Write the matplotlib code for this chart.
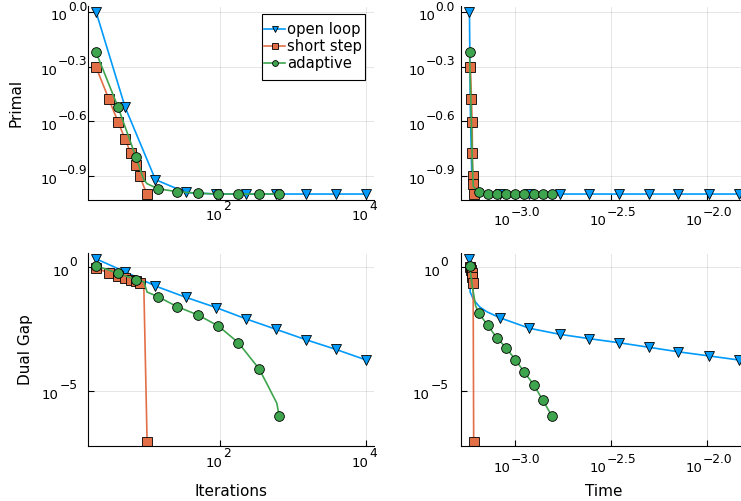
import matplotlib
matplotlib.use("Agg")
import matplotlib.pyplot as plt
from matplotlib.ticker import NullLocator
from matplotlib.patches import Rectangle

# ---- data ----
labels = ["open loop", "short step", "adaptive"]
colors = ["#009AFA", "#E36F47", "#3EA44E"]
markers = ["v", "s", "o"]

# iterations panels
ol_iter = [2, 5, 13, 34, 88, 229, 585, 1507, 3845, 10000]
ol_primal = [1.0, 0.30, 0.12, 0.102, 0.1, 0.1, 0.1, 0.1, 0.1, 0.1]
ol_dual = [2.2, 0.66, 0.175, 0.061, 0.0236, 0.0081, 0.0031, 0.00117, 4.8e-4, 1.78e-4]
ol_iter_mk = list(range(10))

ss_iter = [2, 3, 4, 5, 6, 7, 8, 9, 10]
ss_primal = [0.497, 0.331, 0.249, 0.2, 0.167, 0.144, 0.125, 0.11, 0.1]
ss_dual = [0.97, 0.57, 0.46, 0.38, 0.32, 0.28, 0.24, 0.22, 8.7e-8]
ss_iter_mk = [0, 1, 2, 3, 4, 5, 6, 8]

ad_iter = [2, 4, 7, 9, 10, 14, 26, 50, 95, 178, 342, 436, 599, 646]
ad_primal = [0.60, 0.30, 0.16, 0.12, 0.114, 0.107, 0.103, 0.101, 0.1, 0.1, 0.1, 0.1, 0.1, 0.1]
ad_dual = [1.16, 0.57, 0.32, 0.26, 0.10, 0.065, 0.0254, 0.0117, 0.0042, 8.9e-4,
           7.85e-5, 2.0e-5, 3.2e-6, 9.5e-7]
ad_iter_mk = [0, 1, 2, 5, 6, 7, 8, 9, 10, 13]

# time panels
ol_time_p = [5.75e-4, 5.81e-4, 5.92e-4, 6.17e-4, 8.28e-4, 1.183e-3, 1.698e-3,
             2.42e-3, 3.46e-3, 4.97e-3, 7.08e-3, 0.0102, 0.01466]
ol_primal_t = [1.0, 0.30, 0.12, 0.102, 0.1, 0.1, 0.1, 0.1, 0.1, 0.1, 0.1, 0.1, 0.1]
ol_time_p_mk = [0, 4, 5, 6, 7, 8, 9, 10, 11, 12]
ol_time_d = [5.75e-4, 5.8e-4, 6.05e-4, 6.5e-4, 7.1e-4, 8.28e-4, 1.183e-3, 1.698e-3,
             2.42e-3, 3.46e-3, 4.97e-3, 7.08e-3, 0.0102, 0.01466]
ol_dual_t = [2.2, 0.1, 0.048, 0.025, 0.0158, 0.0091, 0.0034, 0.00195, 0.0013,
             8.9e-4, 5.8e-4, 3.8e-4, 2.6e-4, 1.77e-4]
ol_time_d_mk = [0, 5, 6, 7, 8, 9, 10, 11, 12, 13]

ss_time_p = [5.82e-4, 5.89e-4, 5.94e-4, 5.96e-4, 5.98e-4, 5.99e-4, 6.05e-4]
ss_primal_t = [0.497, 0.331, 0.249, 0.167, 0.126, 0.113, 0.1]
ss_time_d = [5.77e-4, 5.87e-4, 5.91e-4, 5.96e-4, 6.01e-4, 6.05e-4]
ss_dual_t = [1.06, 0.78, 0.57, 0.42, 0.24, 8.7e-8]

ad_time_p = [5.754e-4, 5.86e-4, 5.94e-4, 6.02e-4, 6.412e-4, 7.161e-4, 7.98e-4,
             8.93e-4, 1.0e-3, 1.114e-3, 1.247e-3, 1.39e-3, 1.552e-3]
ad_primal_t = [0.60, 0.30, 0.16, 0.11, 0.103, 0.1, 0.1, 0.1, 0.1, 0.1, 0.1, 0.1, 0.1]
ad_time_p_mk = [0, 4, 5, 6, 7, 8, 9, 10, 11, 12]
ad_time_d = [5.754e-4, 5.96e-4, 6.19e-4, 6.412e-4, 7.161e-4, 7.98e-4, 8.93e-4,
             1.0e-3, 1.114e-3, 1.247e-3, 1.39e-3, 1.552e-3]
ad_dual_t = [1.16, 0.158, 0.028, 0.0145, 0.00447, 0.00141, 5.56e-4, 1.78e-4,
             5.6e-5, 1.72e-5, 4.17e-6, 9.3e-7]
ad_time_d_mk = [0, 3, 4, 5, 6, 7, 8, 9, 10, 11]

# ticks: value -> exponent text
primal_ticks = [1.0, 10 ** -0.3, 10 ** -0.6, 10 ** -0.9]
primal_exps = ["0.0", "\u22120.3", "\u22120.6", "\u22120.9"]
dual_ticks = [1.0, 1e-5]
dual_exps = ["0", "\u22125"]
iter_ticks = [1e2, 1e4]
iter_exps = ["2", "4"]
time_ticks = [1e-3, 10 ** -2.5, 1e-2]
time_exps = ["\u22123.0", "\u22122.5", "\u22122.0"]

W, H = 741, 501
PX = 0.72  # points per pixel at 100 dpi
BASE_FS, SUP_FS = 9.5, 8.8

fig = plt.figure(figsize=(W / 100, H / 100), dpi=100)


def make_ax(left, top, right, bottom):
    return fig.add_axes([left / W, (H - bottom) / H, (right - left) / W, (bottom - top) / H])


def y_labels(ax, ticks, exps, pad_px):
    # "10" with a raised exponent, right aligned next to the spine
    ax.set_yticks(ticks)
    ax.set_yticklabels([])
    tr = ax.get_yaxis_transform()
    for t, e in zip(ticks, exps):
        sup = ax.annotate(e, (0, t), xycoords=tr, xytext=(-pad_px * PX, 1.0),
                          textcoords="offset points", ha="right", va="baseline",
                          fontsize=SUP_FS, annotation_clip=False)
        ax.annotate("10", (0, 0), xycoords=sup, xytext=(-0.3, -6.8 * PX),
                    textcoords="offset points", ha="right", va="baseline",
                    fontsize=BASE_FS, annotation_clip=False)


def x_labels(ax, ticks, exps, dx_px, base_dy, sup_dy):
    ax.set_xticks(ticks)
    ax.set_xticklabels([])
    tr = ax.get_xaxis_transform()
    for t, e in zip(ticks, exps):
        ten = ax.annotate("10", (t, 0), xycoords=tr, xytext=(dx_px * PX, -base_dy * PX),
                          textcoords="offset points", ha="right", va="baseline",
                          fontsize=BASE_FS, annotation_clip=False)
        ax.annotate(e, (1, 0), xycoords=ten, xytext=(0.3, sup_dy * PX),
                    textcoords="offset points", ha="left", va="baseline",
                    fontsize=SUP_FS, annotation_clip=False)


def draw(ax, x, y, k, mk):
    ax.plot(x, y, color=colors[k], lw=1.2, marker=markers[k], markevery=mk,
            ms=7, mfc=colors[k], mec="black", mew=0.6, label=labels[k])


ax_pi = make_ax(88, 6.5, 374, 199.5)
ax_pt = make_ax(460.7, 6.5, 746.7, 199.5)
ax_di = make_ax(88, 253.5, 374, 446.4)
ax_dt = make_ax(460.7, 253.5, 746.7, 446.4)

draw(ax_pi, ol_iter, ol_primal, 0, ol_iter_mk)
draw(ax_pi, ss_iter, ss_primal, 1, ss_iter_mk)
draw(ax_pi, ad_iter, ad_primal, 2, ad_iter_mk)

draw(ax_di, ol_iter, ol_dual, 0, ol_iter_mk)
draw(ax_di, ss_iter, ss_dual, 1, ss_iter_mk)
draw(ax_di, ad_iter, ad_dual, 2, ad_iter_mk)

draw(ax_pt, ol_time_p, ol_primal_t, 0, ol_time_p_mk)
draw(ax_pt, ss_time_p, ss_primal_t, 1, list(range(len(ss_time_p))))
draw(ax_pt, ad_time_p, ad_primal_t, 2, ad_time_p_mk)

draw(ax_dt, ol_time_d, ol_dual_t, 0, ol_time_d_mk)
draw(ax_dt, ss_time_d, ss_dual_t, 1, list(range(len(ss_time_d))))
draw(ax_dt, ad_time_d, ad_dual_t, 2, ad_time_d_mk)

iter_lim = (10 ** 0.19, 10 ** 4.11)
time_lim = (10 ** -3.286, 10 ** -1.793)
primal_lim = (10 ** -1.03, 10 ** 0.03)
dual_lim = (10 ** -7.25, 10 ** 0.56)

for ax, xl, yl in [(ax_pi, iter_lim, primal_lim), (ax_pt, time_lim, primal_lim),
                   (ax_di, iter_lim, dual_lim), (ax_dt, time_lim, dual_lim)]:
    ax.set_xscale("log")
    ax.set_yscale("log")
    ax.set_xlim(xl)
    ax.set_ylim(yl)
    ax.xaxis.set_minor_locator(NullLocator())
    ax.yaxis.set_minor_locator(NullLocator())
    ax.grid(True, color="black", alpha=0.1, lw=0.7)
    ax.set_axisbelow(True)
    for s in ["top", "right"]:
        ax.spines[s].set_visible(False)
    for s in ["left", "bottom"]:
        ax.spines[s].set_linewidth(0.8)
    ax.tick_params(direction="in", length=4, width=0.8)

y_labels(ax_pi, primal_ticks, primal_exps, 0.7)
y_labels(ax_pt, primal_ticks, primal_exps, 5.7)
y_labels(ax_di, dual_ticks, dual_exps, 10.7)
y_labels(ax_dt, dual_ticks, dual_exps, 12.4)
x_labels(ax_pi, iter_ticks, iter_exps, 2.7, 20.6, 13.1)
x_labels(ax_di, iter_ticks, iter_exps, 2.7, 20.6, 13.1)
x_labels(ax_pt, time_ticks, time_exps, -5.0, 25.3, 11.4)
x_labels(ax_dt, time_ticks, time_exps, -5.0, 25.3, 11.4)

ax_pi.set_ylabel("Primal", fontsize=11)
ax_pi.yaxis.set_label_coords(-0.225, 0.5)
ax_di.set_ylabel("Dual Gap", fontsize=11)
ax_di.yaxis.set_label_coords(-0.193, 0.5)
ax_di.set_xlabel("Iterations", fontsize=11)
ax_di.xaxis.set_label_coords(0.5, -0.197)
ax_dt.set_xlabel("Time", fontsize=11)
ax_dt.xaxis.set_label_coords(0.5, -0.197)

# legend: square frame drawn separately so the padding matches
ax_pi.add_patch(Rectangle(((261.7 - 88) / 286, (199.5 - 80) / 193), 103.3 / 286, 66 / 193,
                          transform=ax_pi.transAxes, fc="white", ec="black", lw=0.8,
                          zorder=4, clip_on=False))
ax_pi.legend(loc="upper left", bbox_to_anchor=((264 - 88) / 286, (199.5 - 22.3) / 193),
             borderaxespad=0, borderpad=0, frameon=False, fontsize=10.6,
             handlelength=1.43, handletextpad=0.12, labelspacing=0.14,
             markerscale=0.6, numpoints=1)

fig.savefig("out.png", dpi=100)
